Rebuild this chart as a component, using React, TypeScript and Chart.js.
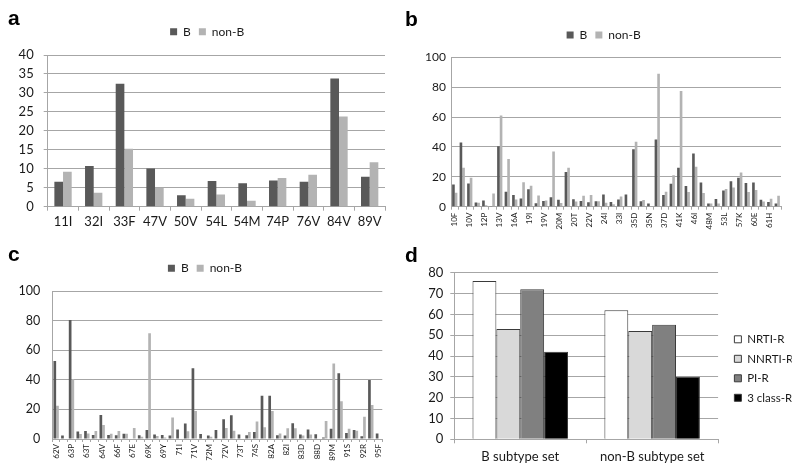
import React, { useEffect, useRef } from 'react';
import { Chart, registerables } from 'chart.js';

Chart.register(...registerables);

// ---------- data ----------
const aCategories = ['11I', '32I', '33F', '47V', '50V', '54L', '54M', '74P', '76V', '84V', '89V'];
const aB = [6.6, 10.7, 32.4, 10.1, 3.0, 6.8, 6.2, 6.9, 6.6, 33.8, 7.9];
const aNonB = [9.2, 3.7, 15.3, 5.0, 2.1, 3.2, 1.6, 7.6, 8.4, 23.8, 11.7];

const bCategories = ['10F', '10I', '10V', '11I', '12P', '12S', '13V', '14R', '16A', '18Q', '19I', '19Q', '19V', '20I', '20M', '20R', '20T', '20V', '22V', '23I', '24I', '32I', '33I', '33F', '35D', '35G', '35N', '36I', '37D', '37N', '41K', '43T', '46I', '47V', '48M', '50V', '53L', '54V', '57K', '58E', '60E', '61E', '61H', '61N'];
const bB = [14.8, 43, 15.5, 2.8, 4.1, 0.5, 40.5, 10, 7.8, 5.5, 11.7, 2.3, 3.8, 6.3, 4.6, 23.3, 5, 3.8, 2.9, 3.6, 8.2, 3.1, 4.9, 8.2, 38.5, 3.6, 2.2, 44.9, 7.8, 15.3, 26, 13.8, 35.6, 16.2, 2.2, 5.1, 10.9, 17.1, 19.3, 15.8, 16.2, 4.7, 3.1, 2.2];
const bNonB = [9.3, 26, 19.3, 2.6, 1, 8.8, 61, 32, 4.8, 16.3, 14.1, 7.5, 4.2, 37, 2.5, 26, 3.4, 7.4, 7.8, 3.6, 2.7, 1.7, 6.9, 0, 43.4, 4.5, 0, 89, 10, 21.1, 77.5, 9.8, 26.7, 9.1, 2.2, 2.2, 11.8, 12.9, 22.9, 9.8, 11.1, 3.4, 5.4, 7.4];

const cCategories = ['62V', '63A', '63P', '63S', '63T', '64M', '64V', '65D', '66F', '67D', '67E', '68E', '69K', '69Q', '69Y', '70R', '71I', '71T', '71V', '72I', '72M', '72T', '72V', '73S', '73T', '74P', '74S', '77I', '82A', '82F', '82I', '82T', '83D', '85V', '88D', '88S', '89M', '90M', '91S', '92K', '92R', '93L', '95F'];
const cB = [52.7, 2.3, 80.4, 5, 5.4, 2.7, 16.2, 2.7, 2.5, 3.6, 0, 2.5, 6, 3, 2.7, 2.3, 6.5, 10.4, 47.8, 3.4, 2.3, 6, 13.3, 16, 3, 2.5, 4.7, 29.3, 29.3, 2.6, 2.3, 10.6, 3, 6.5, 3.2, 1, 7, 44.4, 4, 6, 1.8, 39.9, 3.8];
const cNonB = [22.5, 0, 40.5, 3.4, 3.8, 5.4, 9.5, 3.6, 5.4, 3.6, 7.4, 1.5, 71.4, 2, 1, 14.6, 0, 5.2, 19, 0, 1.5, 0, 7.4, 5.5, 0, 4.7, 11.9, 8, 19, 3.8, 7.2, 7.2, 2.3, 3, 0, 12.2, 51, 25.5, 7, 5.6, 15, 23, 0];

const dGroups = ['B subtype set', 'non-B subtype set'];
const dNRTI = [76, 62];
const dNNRTI = [53, 52];
const dPI = [72, 55];
const d3Class = [42, 30];

// ---------- styles ----------
const FAMILY = 'Lato, "Noto Sans", sans-serif';
const GRID = '#a6a6a6';
const TEXT = '#1a1a1a';
const DARK = '#595959';
const LIGHT = '#b3b3b3';

const fixW = (w: number) => (s: any) => { s.width = w; };
const fixH = (h: number) => (s: any) => { s.height = h; };

const spacerX = (h: number) => ({
  type: 'category',
  position: 'top',
  display: true,
  grid: { display: false, drawTicks: false },
  border: { display: false },
  ticks: { display: false },
  afterFit: fixH(h),
});

const spacerY = (w: number) => ({
  type: 'linear',
  position: 'right',
  display: true,
  grid: { display: false, drawTicks: false },
  border: { display: false },
  ticks: { display: false },
  afterFit: fixW(w),
});

function pairConfig(labels: string[], b: number[], nonB: number[], opt: any) {
  const everyOther = function (this: any, value: any, index: number) {
    return index % 2 === 0 ? this.getLabelForValue(value) : '';
  };
  // legend is centred on [padL, W - padR]; plot spans [yW, plotRight]
  const padR = 400 - 2 * opt.legendCx;
  const rightSpacer = 400 - padR - opt.plotRight;
  return {
    type: 'bar',
    data: {
      labels,
      datasets: [
        { label: 'B', data: b, backgroundColor: DARK, categoryPercentage: opt.cat, barPercentage: 1 },
        { label: 'non-B', data: nonB, backgroundColor: LIGHT, categoryPercentage: opt.cat, barPercentage: 1 },
      ],
    },
    options: {
      responsive: false,
      animation: false,
      devicePixelRatio: 1,
      layout: { padding: { left: 0, right: padR, top: opt.padTop, bottom: 0 } },
      plugins: {
        legend: {
          position: 'top',
          labels: { boxWidth: 7, boxHeight: 7, padding: 8, color: TEXT, font: { family: FAMILY, size: 12 } },
        },
        tooltip: { enabled: false },
      },
      scales: {
        x: {
          grid: { offset: true, drawOnChartArea: false, drawTicks: true, tickLength: opt.xTick, color: GRID },
          border: { color: GRID },
          ticks: opt.rotated
            ? { autoSkip: false, minRotation: 90, maxRotation: 90, padding: opt.xPad, color: TEXT, font: { family: FAMILY, size: opt.xFont }, callback: everyOther }
            : { autoSkip: false, maxRotation: 0, padding: opt.xPad, color: TEXT, font: { family: FAMILY, size: opt.xFont } },
          afterFit: fixH(opt.xH),
        },
        xs: spacerX(opt.spacer),
        y: {
          min: 0,
          max: opt.max,
          ticks: { stepSize: opt.step, padding: opt.yPad, color: TEXT, font: { family: FAMILY, size: opt.yFont } },
          grid: { color: GRID, drawTicks: opt.yTick > 0, tickLength: opt.yTick },
          border: { color: GRID },
          afterFit: fixW(opt.yW),
        },
        ys: spacerY(rightSpacer),
      },
    },
  };
}

function configA() {
  return pairConfig(aCategories, aB, aNonB, {
    cat: 0.565, legendCx: 207.2, plotRight: 385, padTop: 17.7,
    xTick: 4, xPad: 3, xFont: 13, xH: 25.3, spacer: 7.3,
    max: 40, step: 5, yPad: 10, yFont: 13, yTick: 4, yW: 47.7, rotated: false,
  });
}

function configB() {
  return pairConfig(bCategories, bB, bNonB, {
    cat: 0.7, legendCx: 203.7, plotRight: 381, padTop: 21,
    xTick: 3, xPad: 3, xFont: 8, xH: 28.3, spacer: 6.3,
    max: 100, step: 20, yPad: 5, yFont: 12, yTick: 0, yW: 51, rotated: true,
  });
}

function configC() {
  return pairConfig(cCategories, cB, cNonB, {
    cat: 0.7, legendCx: 205, plotRight: 382.3, padTop: 19.3,
    xTick: 3, xPad: 2, xFont: 8, xH: 33, spacer: 6.7,
    max: 100, step: 20, yPad: 12, yFont: 12.5, yTick: 0, yW: 52.3, rotated: true,
  });
}

const D_LEGEND_LEFT = 325;

function configD() {
  const legendFont = 11.5;
  const names = ['NRTI-R', 'NNRTI-R', 'PI-R', '3 class-R'];
  const common = { categoryPercentage: 0.724, barPercentage: 1, borderColor: '#3a3a3a', borderWidth: 1 };
  return {
    type: 'bar',
    data: {
      labels: dGroups,
      datasets: [
        { label: names[0], data: dNRTI, backgroundColor: '#ffffff', ...common },
        { label: names[1], data: dNNRTI, backgroundColor: '#d9d9d9', ...common },
        { label: names[2], data: dPI, backgroundColor: '#808080', ...common },
        { label: names[3], data: d3Class, backgroundColor: '#000000', ...common },
      ],
    },
    options: {
      responsive: false,
      animation: false,
      devicePixelRatio: 1,
      layout: { padding: { left: 0, right: 0, top: 37.7, bottom: 7.6 } },
      plugins: {
        legend: {
          position: 'right',
          labels: { boxWidth: 7, boxHeight: 7, padding: 8, color: TEXT, font: { family: FAMILY, size: legendFont } },
        },
        tooltip: { enabled: false },
      },
      scales: {
        x: {
          grid: { offset: true, drawOnChartArea: false, drawTicks: true, tickLength: 4, color: GRID },
          border: { color: GRID },
          ticks: { autoSkip: false, maxRotation: 0, padding: 6, color: TEXT, font: { family: FAMILY, size: 13 } },
          afterFit: fixH(25.1),
        },
        y: {
          min: 0,
          max: 80,
          ticks: { stepSize: 10, padding: 7, color: TEXT, font: { family: FAMILY, size: 13 } },
          grid: { color: GRID, tickLength: 4 },
          border: { color: GRID },
          afterFit: fixW(54.3),
        },
        ys: spacerY(8.3),
      },
    },
  };
}

function adjustD(chart: any) {
  const lw = chart.legend ? chart.legend.width : 80;
  chart.options.layout.padding.right = 400 - D_LEGEND_LEFT - lw;
  chart.update();
}

function Panel(props: { left: number; top: number; width: number; height: number; build: () => any; adjust?: (c: any) => void }) {
  const ref = useRef<HTMLCanvasElement | null>(null);
  useEffect(() => {
    if (!ref.current) return;
    const chart = new Chart(ref.current, props.build());
    if (props.adjust) props.adjust(chart);
    return () => chart.destroy();
  }, []);
  return (
    <canvas
      ref={ref}
      width={props.width}
      height={props.height}
      style={{ position: 'absolute', left: props.left, top: props.top, width: props.width, height: props.height }}
    />
  );
}

const letterStyle = (left: number, top: number): React.CSSProperties => ({
  position: 'absolute',
  left,
  top,
  fontFamily: '"Liberation Sans", Arial, sans-serif',
  fontWeight: 700,
  fontSize: 21,
  lineHeight: '21px',
  color: '#000',
});

export default function App() {
  return (
    <div style={{ position: 'absolute', left: 0, top: 0, width: 800, height: 472, background: '#ffffff', overflow: 'hidden' }}>
      <Panel left={0} top={0} width={400} height={232} build={configA} />
      <Panel left={400} top={0} width={400} height={235} build={configB} />
      <Panel left={0} top={235} width={400} height={237} build={configC} />
      <Panel left={400} top={235} width={400} height={237} build={configD} adjust={adjustD} />
      <div style={letterStyle(8, 7)}>a</div>
      <div style={letterStyle(405, 8)}>b</div>
      <div style={letterStyle(8, 243)}>c</div>
      <div style={letterStyle(405, 244)}>d</div>
    </div>
  );
}
